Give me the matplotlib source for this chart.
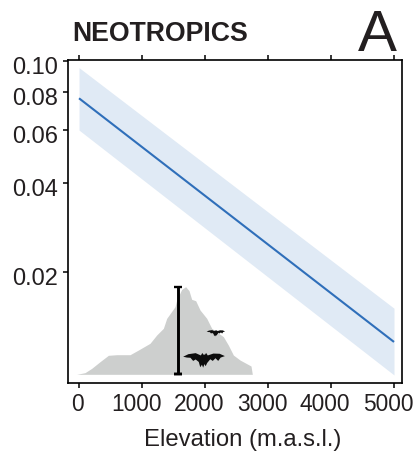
import matplotlib
matplotlib.use("Agg")
import matplotlib.pyplot as plt
from matplotlib.transforms import ScaledTranslation

plt.rcParams['font.family'] = ['Liberation Sans', 'DejaVu Sans']

W, H = 417, 453
INK = '#231f20'

# Fitted relationship (elevation, proportion)
fit_elevation = [0, 5000]
fit_mean = [0.0761, 0.01154]
fit_upper = [0.0953, 0.01507]
fit_lower = [0.0600, 0.00888]

x_ticks = [0, 1000, 2000, 3000, 4000, 5000]
y_ticks = [0.02, 0.04, 0.06, 0.08, 0.10]
y_tick_labels = ['0.02', '0.04', '0.06', '0.08', '0.10']

# Elevational distribution silhouette (relative density)
dens_elevation = [-37, 95, 201, 333, 466, 598, 810, 942, 1127, 1233, 1339, 1392, 1524, 1550,
                  1630, 1693, 1746, 1788, 1852, 1921, 2027, 2106, 2291, 2370, 2450, 2556,
                  2730, 2751]
dens_value = [0, .019, .068, .144, .217, .224, .224, .277, .354, .449, .525, .639, .772, .848,
              .97, 1, .955, .856, .84, .734, .639, .525, .43, .334, .22, .163,
              .095, 0]

# Range bar
range_elevation = 1576
range_low = 0
range_high = 1

# Bat icon outline (unit shape)
bat_u = [-1, -.75, -.4, -.15, -.08, -.03, .05, .1, .18, .45, .75, 1, .8, .68, .55, .42, .3,
         .15, .08, .02, -.04, -.1, -.18, -.25, -.4, -.52, -.65, -.82]
bat_v = [0, .12, .17, .06, .18, .1, .1, .18, .06, .15, .14, .03, -.04, -.2, -.07, -.2, -.12,
         -.3, -.45, -.35, -.52, -.38, -.5, -.25, -.13, -.2, -.05, -.04]

fig = plt.figure(figsize=(W / 100, H / 100), dpi=100)
L, R, T, B = 68, 401.5, 60, 383
ax = fig.add_axes([L / W, (H - B) / H, (R - L) / W, (B - T) / H])
ax.set_yscale('logit')
ax.set_xlim(-175, 5119)
ax.set_ylim(0.00833, 0.1007)

ax.fill_between(fit_elevation, fit_lower, fit_upper, color='#e0eaf5', lw=0, zorder=1)
ax.plot(fit_elevation, fit_mean, color='#2f6fba', lw=1.5, zorder=2, solid_capstyle='butt')

ax.set_xticks(x_ticks)
ax.set_xticklabels([str(v) for v in x_ticks])
ax.set_yticks(y_ticks)
ax.set_yticklabels(y_tick_labels)
ax.minorticks_off()
ax.tick_params(axis='x', which='major', direction='out', length=3.8, width=1.1, top=True,
               labelsize=16.4, labelcolor=INK, pad=3.5)
ax.tick_params(axis='y', which='major', direction='out', length=3.8, width=1.1, right=True,
               labelsize=17, labelcolor=INK, pad=3.5)
ax.set_xlabel('Elevation (m.a.s.l.)', fontsize=17.2, color=INK)
ax.xaxis.set_label_coords(243 / W, (H - 440) / H, transform=fig.transFigure)
ax.xaxis.label.set_verticalalignment('center')
for side, s in ax.spines.items():
    s.set_linewidth(1.2)
    s.set_color('black')

# Tick labels sit slightly off their ticks in the reference
for i, lab in enumerate(ax.get_xticklabels()):
    dx = -1.5 if i == 0 else -6
    lab.set_transform(lab.get_transform() + ScaledTranslation(dx / 100, 0, fig.dpi_scale_trans))
for lab in ax.get_yticklabels():
    lab.set_transform(lab.get_transform() + ScaledTranslation(0, -4.5 / 100, fig.dpi_scale_trans))

# Density overlay on its own vertical scale
ax2 = ax.twinx()
ax2.set_ylim(-0.099, 3.588)
ax2.set_yticks([])
ax2.patch.set_visible(False)
for s in ax2.spines.values():
    s.set_visible(False)
ax2.fill_between(dens_elevation, 0, dens_value, color='#cdcfce', lw=0, zorder=1)
ax2.errorbar([range_elevation], [range_high], yerr=[[range_high - range_low], [0]],
             color='black', lw=2.1, capsize=3.2, capthick=1.7, zorder=3)
ax2.errorbar([range_elevation], [range_low], yerr=[[0], [0]],
             color='black', lw=0, capsize=3.2, capthick=1.7, zorder=3)

for cx, cy, hx, hy in [(1984, .201, 331, .24), (2172, .487, 146, .105)]:
    ax2.fill([cx + u * hx for u in bat_u], [cy + v * hy for v in bat_v],
             color='#0c0c0c', lw=0, zorder=4)

fig.text(72 / W, (H - 41) / H, 'NEOTROPICS', fontsize=19.2, fontweight='bold',
         color=INK, ha='left', va='baseline')
fig.text(358 / W, (H - 51) / H, 'A', fontsize=42, color=INK, ha='left', va='baseline')

fig.savefig('out.png', dpi=100)
